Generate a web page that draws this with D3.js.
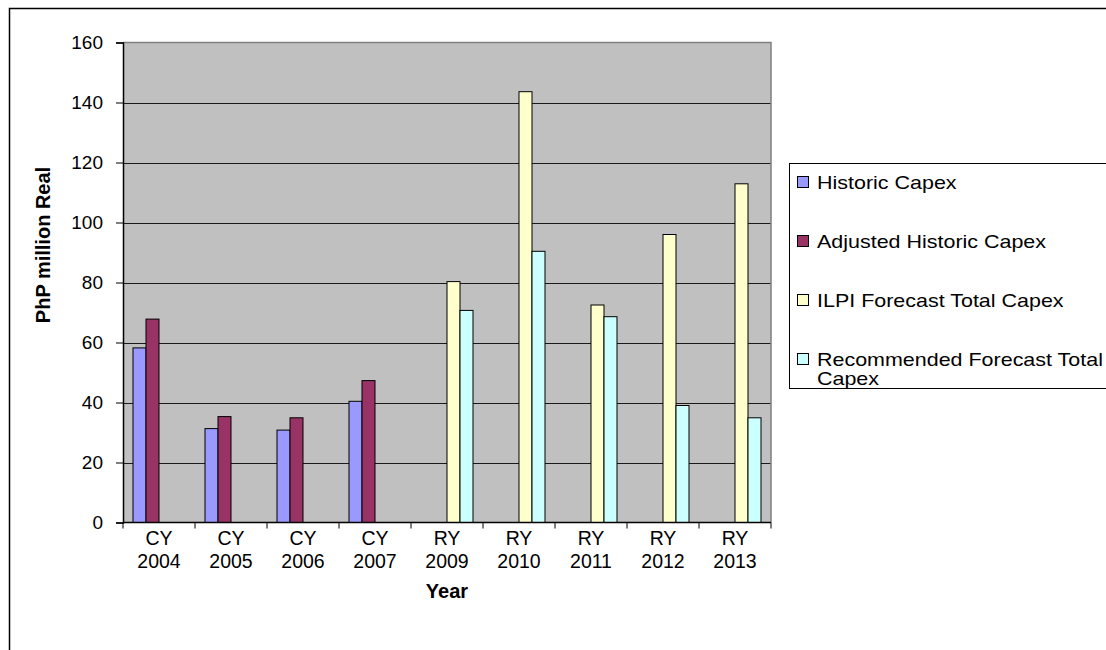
<!DOCTYPE html>
<html>
<head>
<meta charset="utf-8">
<script src="https://cdnjs.cloudflare.com/ajax/libs/d3/7.8.5/d3.min.js"></script>
<style>
  html, body { margin: 0; padding: 0; background: #fff; }
  svg { display: block; font-family: "Liberation Sans", Arial, sans-serif; }
</style>
</head>
<body>
<svg id="chart" width="1106" height="650"></svg>
<script>
// Year categories, split into two label lines
const categories = ["CY 2004", "CY 2005", "CY 2006", "CY 2007", "RY 2009", "RY 2010", "RY 2011", "RY 2012", "RY 2013"];

// Series names (legend order)
const seriesNames = ["Historic Capex", "Adjusted Historic Capex", "ILPI Forecast Total Capex", "Recommended Forecast Total Capex"];
const seriesColors = ["#9999ff", "#993366", "#ffffcc", "#ccffff"];

// Values in PhP million real; null = no bar
const historicCapex    = [58.2, 31.3, 30.8, 40.4, null, null, null, null, null];
const adjustedHistoric = [67.8, 35.3, 34.9, 47.3, null, null, null, null, null];
const ilpiForecast     = [null, null, null, null, 80.3, 143.6, 72.5, 96.0, 112.9];
const recommended      = [null, null, null, null, 70.7, 90.4, 68.6, 39.0, 34.9];

const yTicks = [0, 20, 40, 60, 80, 100, 120, 140, 160];

const series = [historicCapex, adjustedHistoric, ilpiForecast, recommended];

const svg = d3.select("#chart");

// Outer chart frame
svg.append("rect")
  .attr("x", 9.5).attr("y", 8.5)
  .attr("width", 1200).attr("height", 700)
  .attr("fill", "#fff").attr("stroke", "#000").attr("stroke-width", 1.5);

const plot = { left: 123, top: 42.5, right: 771, bottom: 522.5 };

const x = d3.scaleBand()
  .domain(categories)
  .range([plot.left, plot.right])
  .paddingInner(0).paddingOuter(0);

const xInner = d3.scaleBand()
  .domain(d3.range(series.length))
  .range([0, x.bandwidth()])
  .paddingInner(0).paddingOuter(0.77);

const y = d3.scaleLinear()
  .domain([0, 160])
  .range([plot.bottom, plot.top]);

// Plot background
svg.append("rect")
  .attr("x", plot.left).attr("y", plot.top)
  .attr("width", plot.right - plot.left)
  .attr("height", plot.bottom - plot.top)
  .attr("fill", "#c0c0c0");

// Horizontal gridlines
svg.append("g")
  .selectAll("line")
  .data(yTicks.filter(d => d > 0 && d < 160))
  .join("line")
  .attr("x1", plot.left).attr("x2", plot.right)
  .attr("y1", d => Math.round(y(d)) + 0.5).attr("y2", d => Math.round(y(d)) + 0.5)
  .attr("stroke", "#1a1a1a").attr("stroke-width", 1);

// Top and right frame of the plot area
svg.append("path")
  .attr("d", `M${plot.left},${plot.top}H${plot.right}V${plot.bottom}`)
  .attr("fill", "none").attr("stroke", "#808080").attr("stroke-width", 1.5);

// Bars
const bars = [];
series.forEach((vals, si) => {
  vals.forEach((v, ci) => {
    if (v != null) bars.push({ si, ci, v });
  });
});

svg.append("g")
  .selectAll("rect")
  .data(bars)
  .join("rect")
  .attr("x", d => x(categories[d.ci]) + xInner(d.si))
  .attr("y", d => y(d.v))
  .attr("width", xInner.bandwidth())
  .attr("height", d => y(0) - y(d.v))
  .attr("fill", d => seriesColors[d.si])
  .attr("stroke", "#000").attr("stroke-width", 1);

// Y axis
const yAxis = d3.axisLeft(y)
  .tickValues(yTicks)
  .tickSize(7)
  .tickPadding(13)
  .tickFormat(d3.format("d"));

const gy = svg.append("g")
  .attr("transform", `translate(${plot.left},0)`)
  .call(yAxis);
gy.select(".domain").attr("stroke", "#000").attr("stroke-width", 1.5);
gy.selectAll(".tick line").attr("stroke", "#000");
gy.selectAll(".tick text")
  .attr("font-size", 19).attr("fill", "#000")
  .attr("font-family", "Liberation Sans, Arial, sans-serif");

// X axis with ticks at category boundaries
const gx = svg.append("g")
  .attr("transform", `translate(0,${plot.bottom})`);
gx.append("line")
  .attr("x1", plot.left).attr("x2", plot.right)
  .attr("y1", 0).attr("y2", 0)
  .attr("stroke", "#000").attr("stroke-width", 1.5);
const boundaries = categories.map(c => x(c)).concat([x(categories[categories.length - 1]) + x.bandwidth()]);
gx.selectAll("line.tick")
  .data(boundaries)
  .join("line")
  .attr("class", "tick")
  .attr("x1", d => d).attr("x2", d => d)
  .attr("y1", 0).attr("y2", 6)
  .attr("stroke", "#000");

const xl = svg.append("g")
  .selectAll("text")
  .data(categories)
  .join("text")
  .attr("x", d => x(d) + x.bandwidth() / 2)
  .attr("text-anchor", "middle")
  .attr("font-size", 19.5)
  .attr("fill", "#000");
xl.append("tspan")
  .attr("x", d => x(d) + x.bandwidth() / 2)
  .attr("y", 545)
  .text(d => d.split(" ")[0]);
xl.append("tspan")
  .attr("x", d => x(d) + x.bandwidth() / 2)
  .attr("y", 568)
  .text(d => d.split(" ")[1]);

// Axis titles
svg.append("text")
  .attr("x", (plot.left + plot.right) / 2)
  .attr("y", 598)
  .attr("text-anchor", "middle")
  .attr("font-size", 20).attr("font-weight", "bold")
  .text("Year");

svg.append("text")
  .attr("transform", `translate(50,245) rotate(-90)`)
  .attr("text-anchor", "middle")
  .attr("font-size", 20).attr("font-weight", "bold")
  .text("PhP million Real");

// Legend
const legend = svg.append("g");
legend.append("rect")
  .attr("x", 789.5).attr("y", 163.5)
  .attr("width", 400).attr("height", 225)
  .attr("fill", "#fff").attr("stroke", "#000").attr("stroke-width", 1);

const legendY = [182, 241, 300, 359];
const legendLines = [["Historic Capex"], ["Adjusted Historic Capex"], ["ILPI Forecast Total Capex"], ["Recommended Forecast Total", "Capex"]];

seriesNames.forEach((name, i) => {
  legend.append("rect")
    .attr("x", 797.5).attr("y", legendY[i] - 5.5)
    .attr("width", 11).attr("height", 11)
    .attr("fill", seriesColors[i]).attr("stroke", "#000").attr("stroke-width", 1);
  legendLines[i].forEach((line, li) => {
    legend.append("text")
      .attr("transform", `translate(817,${legendY[i] + 7 + li * 18.5}) scale(1.13,1)`)
      .attr("font-size", 19).attr("fill", "#000")
      .text(line);
  });
});
</script>
</body>
</html>
